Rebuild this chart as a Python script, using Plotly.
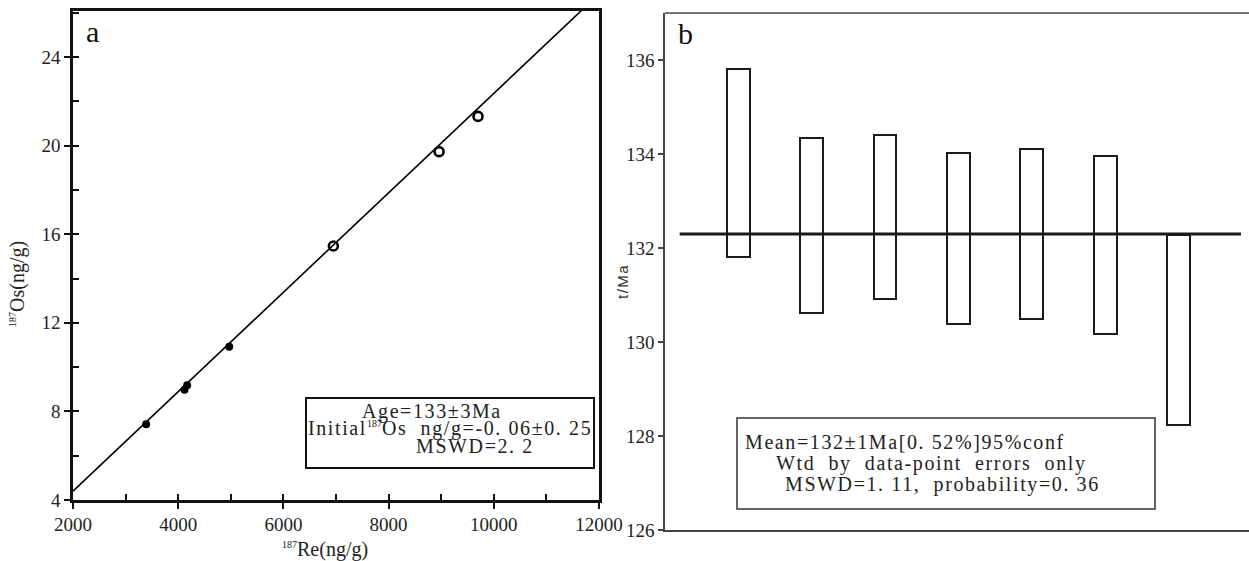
import numpy as np
import plotly.graph_objects as go

W, H = 1249, 561

# ---------------- data: panel a (Re-Os isochron) ----------------
re187 = [3390, 4120, 4170, 4970, 6950, 8960, 9700]
os187 = [7.42, 8.98, 9.18, 10.92, 15.47, 19.73, 21.32]
point_style = ["dot", "dot", "dot", "dot", "ring", "ring", "ring"]
iso_slope = 0.002245
iso_intercept = -0.09

# ---------------- data: panel b (weighted mean) ----------------
sample_idx = [1, 2, 3, 4, 5, 6, 7]
age_hi = [135.81, 134.34, 134.40, 134.03, 134.11, 133.96, 132.28]
age_lo = [131.81, 130.62, 130.91, 130.38, 130.49, 130.17, 128.23]
mean_age = 132.3

yticks_a = [4, 8, 12, 16, 20, 24]
xticks_a = [2000, 4000, 6000, 8000, 10000, 12000]
xticklabels_a = ["2000", "4000", "6000", "8000", "10000", "12000"]
yticks_b = [126, 128, 130, 132, 134, 136]

SERIF = "Liberation Serif"


def px(x):
    return x / W


def py(y):
    return 1 - y / H


fig = go.Figure()

# ---- panel a ----
xs = np.linspace(2000, 12000, 2)
fig.add_trace(go.Scatter(x=xs, y=iso_intercept + iso_slope * xs, mode="lines",
                         line=dict(color="black", width=1.6), xaxis="x", yaxis="y",
                         showlegend=False, hoverinfo="skip"))
dx = [r for r, s in zip(re187, point_style) if s == "dot"]
dy = [o for o, s in zip(os187, point_style) if s == "dot"]
rx = [r for r, s in zip(re187, point_style) if s == "ring"]
ry = [o for o, s in zip(os187, point_style) if s == "ring"]
fig.add_trace(go.Scatter(x=dx, y=dy, mode="markers", xaxis="x", yaxis="y",
                         marker=dict(symbol="circle", size=8, color="black"),
                         showlegend=False))
fig.add_trace(go.Scatter(x=rx, y=ry, mode="markers", xaxis="x", yaxis="y",
                         marker=dict(symbol="circle-open", size=9, color="black",
                                     line=dict(width=2.6, color="black")),
                         showlegend=False))

# ---- panel b ----
fig.add_trace(go.Bar(x=sample_idx, y=[h - l for h, l in zip(age_hi, age_lo)], base=age_lo,
                     width=0.31, xaxis="x2", yaxis="y2",
                     marker=dict(color="rgba(0,0,0,0)", line=dict(color="#1a1a1a", width=2)),
                     showlegend=False))
fig.add_trace(go.Scatter(x=[0.2, 7.85], y=[mean_age, mean_age], mode="lines",
                         line=dict(color="#1a1a1a", width=3), xaxis="x2", yaxis="y2",
                         showlegend=False, hoverinfo="skip"))

tickfont = dict(family=SERIF, size=19, color="#222")

dom_xa = [px(73), px(599)]
dom_ya = [py(500), py(11)]
dom_xb = [px(665), 1.0]
dom_yb = [py(530), py(13)]

fig.update_layout(
    width=W, height=H, margin=dict(l=0, r=0, t=0, b=0, autoexpand=False),
    paper_bgcolor="white", plot_bgcolor="white",
    font=dict(family=SERIF, color="#222"),
    bargap=0,
    xaxis=dict(domain=dom_xa, range=[2000, 12000], anchor="y", automargin=False,
               tickvals=xticks_a, ticktext=xticklabels_a, ticks="outside", ticklen=6, tickwidth=2,
               tickcolor="#111",
               showline=True, linecolor="#111", linewidth=2.5, mirror=True,
               showgrid=False, zeroline=False, tickfont=tickfont, ticklabelstandoff=-1),
    yaxis=dict(domain=dom_ya, range=[4, 26.08], anchor="x", automargin=False,
               tickvals=yticks_a, ticks="outside", ticklen=6, tickwidth=2, tickcolor="#111",
               showline=True, linecolor="#111", linewidth=2.5, mirror=True,
               showgrid=False, zeroline=False, tickfont=tickfont),
    xaxis3=dict(domain=dom_xa, range=[2000, 12000], anchor="y", overlaying="x", automargin=False,
                dtick=1000, tick0=0, ticks="inside", ticklen=6, tickwidth=2, tickcolor="#111",
                showticklabels=False, showgrid=False, zeroline=False, showline=False),
    yaxis3=dict(domain=dom_ya, range=[4, 26.08], anchor="x", overlaying="y", automargin=False,
                dtick=2, tick0=0, ticks="inside", ticklen=6, tickwidth=2, tickcolor="#111",
                showticklabels=False, showgrid=False, zeroline=False, showline=False),
    xaxis2=dict(domain=dom_xb, range=[0, 7.96], anchor="y2", automargin=False,
                showticklabels=False, ticks="", showgrid=False, zeroline=False,
                showline=True, linecolor="#444", linewidth=1.5, mirror=False),
    yaxis2=dict(domain=dom_yb, range=[126, 137], anchor="x2", automargin=False,
                tickvals=yticks_b, ticks="outside", ticklen=5, tickwidth=1.5, tickcolor="#444",
                showline=True, linecolor="#444", linewidth=1.5, mirror=False,
                showgrid=False, zeroline=False, tickfont=tickfont),
)

# invisible trace to activate overlay axes
fig.add_trace(go.Scatter(x=[None], y=[None], xaxis="x3", yaxis="y3", showlegend=False))

small = "<span style='font-size:10px'>187</span>"


def spaced(t, ls=1.6):
    return f"<span style='letter-spacing:{ls}px'>{t}</span>"


ann = []
# panel letters
ann.append(dict(x=px(84), y=py(32), text="a", font=dict(family=SERIF, size=30, color="#111"),
                xanchor="left", yanchor="middle"))
ann.append(dict(x=px(676), y=py(34), text="b", font=dict(family=SERIF, size=30, color="#111"),
                xanchor="left", yanchor="middle"))
# axis titles
ann.append(dict(x=px(325), y=py(549), text=f"<sup>{small}</sup>Re(ng/g)",
                font=dict(family=SERIF, size=20, color="#222"), xanchor="center", yanchor="middle"))
ann.append(dict(x=px(17), y=py(284), text=f"<sup>{small}</sup>Os(ng/g)", textangle=-90,
                font=dict(family=SERIF, size=20, color="#222"), xanchor="center", yanchor="middle"))
ann.append(dict(x=px(622), y=py(282), text=spaced("t/Ma", 1.5), textangle=-90,
                font=dict(family="Liberation Sans", size=15, color="#333"), xanchor="center",
                yanchor="middle"))
# panel a text box
tf = dict(family=SERIF, size=20, color="#222")
ann.append(dict(x=px(432), y=py(411), text=spaced("Age=133±3Ma"), font=tf,
                xanchor="center", yanchor="middle"))
ann.append(dict(x=px(450), y=py(429),
                text=spaced("Initial") + f"<sup>{small}</sup>" + spaced("Os  ng/g=-0. 06±0. 25"),
                font=tf, xanchor="center", yanchor="middle"))
ann.append(dict(x=px(475), y=py(446), text=spaced("MSWD=2. 2"), font=tf,
                xanchor="center", yanchor="middle"))
# panel b text box
ann.append(dict(x=px(743), y=py(442), text=spaced("Mean=132±1Ma[0. 52%]95%conf"), font=tf,
                xanchor="left", yanchor="middle"))
ann.append(dict(x=px(774), y=py(463), text=spaced("Wtd  by  data-point  errors  only"), font=tf,
                xanchor="left", yanchor="middle"))
ann.append(dict(x=px(783), y=py(484), text=spaced("MSWD=1. 11,  probability=0. 36"), font=tf,
                xanchor="left", yanchor="middle"))
for a in ann:
    a.update(xref="paper", yref="paper", showarrow=False)
fig.update_layout(annotations=ann)

fig.update_layout(shapes=[
    dict(type="rect", xref="paper", yref="paper", x0=px(306), x1=px(594), y0=py(468), y1=py(398),
         line=dict(color="#111", width=2), fillcolor="rgba(0,0,0,0)"),
    dict(type="rect", xref="paper", yref="paper", x0=px(737), x1=px(1155), y0=py(509), y1=py(418),
         line=dict(color="#333", width=1.5), fillcolor="rgba(0,0,0,0)"),
    # top frame line of panel b
    dict(type="line", xref="paper", yref="paper", x0=dom_xb[0], x1=1.0, y0=dom_yb[1], y1=dom_yb[1],
         line=dict(color="#444", width=1.5)),
])

fig.write_html("out.html")
